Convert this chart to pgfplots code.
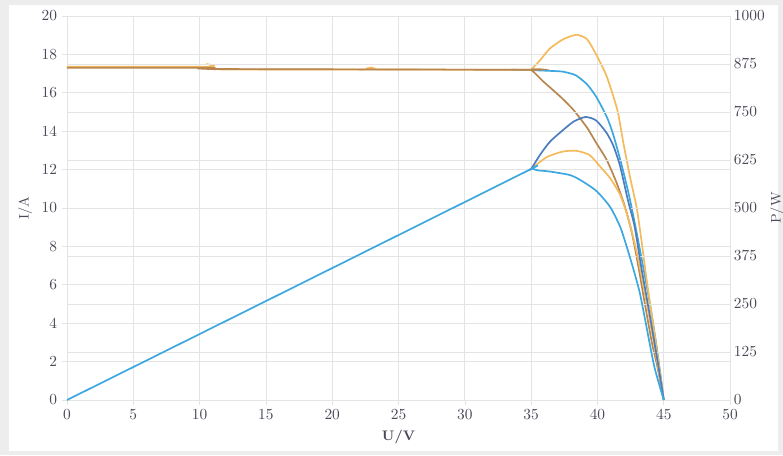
\documentclass[border=0pt]{standalone}
\usepackage{pgfplots}
\pgfplotsset{compat=1.18}
\usetikzlibrary{backgrounds}
\definecolor{cOrange}{HTML}{F5BA5C}
\definecolor{cBrown}{HTML}{B8864E}
\definecolor{cLBlue}{HTML}{3DA8E0}
\definecolor{cDBlue}{HTML}{4B7DBE}
\definecolor{gridc}{HTML}{E4E4E4}
\definecolor{txt}{HTML}{4A4A58}
\definecolor{framec}{HTML}{EDEDED}
\begin{document}
\begin{tikzpicture}
\pgfplotsset{
  base/.style={
    scale only axis, width=431pt, height=249.6pt,
    at={(0,0)}, anchor=south west,
    xmin=0, xmax=50,
    axis line style={draw=none},
    tick style={draw=gridc, thin},
    major tick length=3pt,
    grid=major,
    major grid style={draw=gridc, line width=0.5pt},
    tick label style={text=txt, /pgf/number format/1000 sep={}},
    label style={text=txt, font=\small},
  },
  curve/.style={line width=1.1pt, smooth, tension=0.4, no markers},
}
% left axis: current
\begin{axis}[base,
  ymin=0, ymax=20,
  xtick={0,5,...,50}, ytick={0,2,...,20},
  xtick pos=bottom, ytick pos=left,
  tick align=outside,
  xlabel={\textbf{U/V}},
  ylabel={I/A},
  xlabel style={at={(axis description cs:0.5,-0.096)}, anchor=center},
  ylabel style={at={(axis description cs:-0.063,0.5)}, anchor=center, rotate=0},
]
\addplot[curve, cLBlue] coordinates {
 (33.5,17.2) (35,17.18) (36.5,17.14) (37.3,17.11) (37.9,17.02) (38.4,16.9)
 (39.2,16.45) (39.9,15.8) (40.7,14.75) (41.2,13.8) (41.8,12.3) (42.4,10.6)
 (42.96,8.7) (43.4,7.1) (43.96,5.0) (44.5,2.6) (45,0)};
\addplot[curve, cOrange] coordinates {
 (0,17.36) (10.5,17.36) (10.8,17.46) (11.1,17.32) (11.4,17.22) (22.5,17.22)
 (22.9,17.32) (23.3,17.22) (34.6,17.2) (35,17.22) (35.7,17.72) (36.4,18.3)
 (37.4,18.78) (38.4,19.02) (39.2,18.8) (39.9,18.0) (40.7,16.85) (41.5,15.1)
 (41.95,13.4) (42.46,11.6) (42.96,10.0) (43.3,8.4) (43.7,6.3) (44.1,4.4)
 (44.5,2.5) (45,0)};
\addplot[curve, cBrown] coordinates {
 (0,17.3) (10.9,17.3) (11.2,17.24) (34.6,17.2) (35,17.2) (35.9,16.6) (37.2,15.8)
 (38.2,15.1) (39.2,14.2) (39.9,13.4) (40.7,12.5) (41.45,11.3) (42.1,10.0)
 (42.6,8.7) (43.1,6.9) (43.5,5.3) (44.1,3.0) (44.5,1.8) (45,0)};
\end{axis}
% right axis: power
\begin{axis}[base,
  ymin=0, ymax=1000,
  ytick={0,125,...,1000},
  axis x line=none,
  axis y line*=right,
  xmajorgrids=false,
  ytick pos=right,
  tick align=outside,
  major tick length=0pt,
  yticklabel style={xshift=-1pt},
  ylabel={P/W},
  ylabel style={at={(axis description cs:1.071,0.5)}, anchor=center, rotate=0},
]
\addplot[curve, cOrange] coordinates {
 (34.8,599) (35,602) (36.2,633) (37.4,647) (38.4,649) (39.4,638) (40.2,608)
 (40.95,578) (41.7,535) (42.3,475) (42.96,385) (43.7,255) (44.5,100) (45,0)};
\addplot[curve, cDBlue] coordinates {
 (34.8,599) (35,602) (35.7,640) (36.4,672) (37.2,697) (38.2,725) (39.1,737)
 (39.9,728) (40.7,695) (41.2,662) (41.7,610) (42.3,520) (42.8,452) (43.3,347)
 (43.9,230) (44.5,108) (45,0)};
\addplot[curve, cLBlue] coordinates {
 (0,0) (17,292) (34.5,593) (35,602) (35.5,598) (36.4,595) (37.9,586) (38.7,573)
 (39.9,545) (40.95,503) (41.7,452) (42.2,400) (42.7,342) (43.2,278) (43.7,190)
 (44.3,85) (45,0)};
\end{axis}
\begin{scope}[on background layer]
  \fill[framec] (-43.55pt,-35.75pt) rectangle (465.4pt,260pt);
  \fill[white] (-37.7pt,-33.15pt) rectangle (462.15pt,256.75pt);
\end{scope}
\pgfresetboundingbox
\useasboundingbox (-43.55pt,-35.75pt) rectangle (465.4pt,260pt);
\end{tikzpicture}
\end{document}
